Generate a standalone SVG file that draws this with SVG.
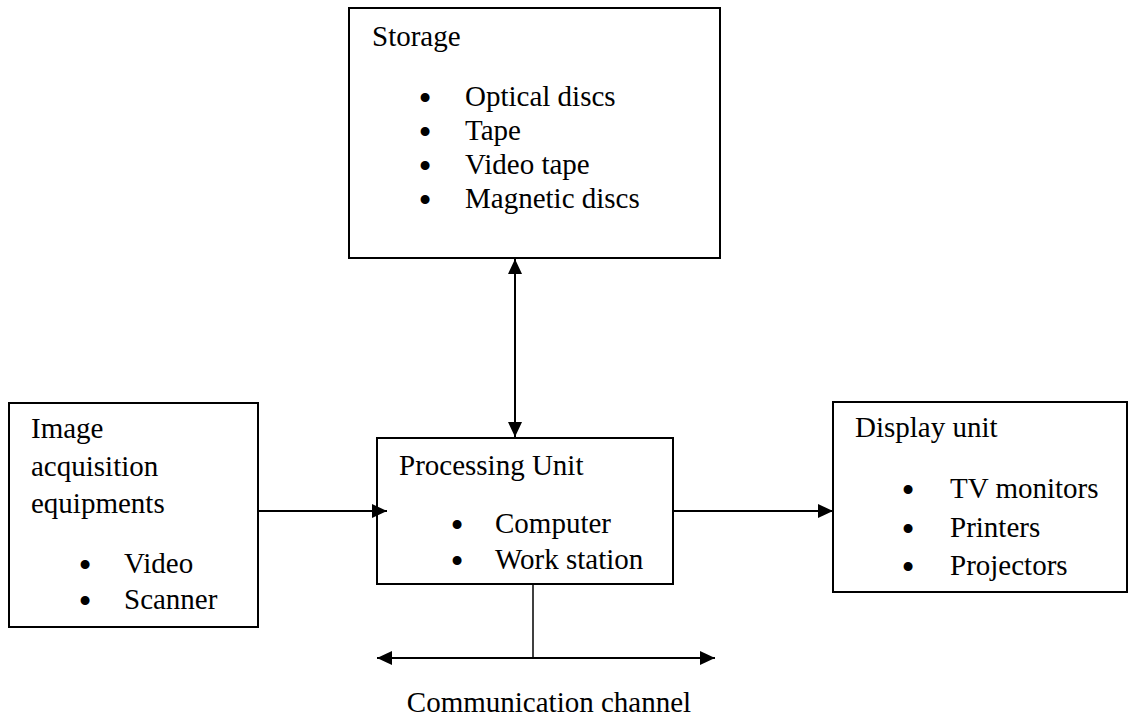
<svg xmlns="http://www.w3.org/2000/svg" width="1128" height="718" viewBox="0 0 1128 718">
<defs>
<style>
.box{fill:#fff;stroke:#000;stroke-width:2}
.t{font-family:"Liberation Serif","Times New Roman",serif;font-size:29px;fill:#000}
.bl{stroke:#000;stroke-width:2}
.ln{stroke:#000;stroke-width:2;fill:none}
.thin{stroke:#000;stroke-width:1.5;fill:none}
</style>
<marker id="ah" viewBox="0 0 15 14" refX="15" refY="7" markerWidth="15" markerHeight="14" markerUnits="userSpaceOnUse" orient="auto-start-reverse">
<path d="M0,0 L15,7 L0,14 z" fill="#000"/>
</marker>
</defs>
<rect width="1128" height="718" fill="#fff"/>
<g id="storage" class="t">
<rect class="box" x="349" y="8" width="371" height="250"/>
<text x="372" y="46">Storage</text>
<text y="106"><tspan class="bl" x="420" dy="2">•</tspan><tspan x="465" dy="-2">Optical discs</tspan></text>
<text y="140"><tspan class="bl" x="420" dy="2">•</tspan><tspan x="465" dy="-2">Tape</tspan></text>
<text y="174"><tspan class="bl" x="420" dy="2">•</tspan><tspan x="465" dy="-2">Video tape</tspan></text>
<text y="208"><tspan class="bl" x="420" dy="2">•</tspan><tspan x="465" dy="-2">Magnetic discs</tspan></text>
</g>
<g id="acquisition" class="t">
<rect class="box" x="9" y="403" width="249" height="224"/>
<text x="31" y="438">Image</text>
<text x="31" y="476">acquisition</text>
<text x="31" y="513">equipments</text>
<text y="573"><tspan class="bl" x="80" dy="2">•</tspan><tspan x="124" dy="-2">Video</tspan></text>
<text y="609"><tspan class="bl" x="80" dy="2">•</tspan><tspan x="124" dy="-2">Scanner</tspan></text>
</g>
<g id="processing" class="t">
<rect class="box" x="377" y="438" width="296" height="146"/>
<text x="399" y="475">Processing Unit</text>
<text y="533"><tspan class="bl" x="452" dy="2">•</tspan><tspan x="495" dy="-2">Computer</tspan></text>
<text y="569"><tspan class="bl" x="452" dy="2">•</tspan><tspan x="495" dy="-2">Work station</tspan></text>
</g>
<g id="display" class="t">
<rect class="box" x="833" y="402" width="294" height="190"/>
<text x="855" y="437">Display unit</text>
<text y="498"><tspan class="bl" x="903" dy="2">•</tspan><tspan x="950" dy="-2">TV monitors</tspan></text>
<text y="537"><tspan class="bl" x="903" dy="2">•</tspan><tspan x="950" dy="-2">Printers</tspan></text>
<text y="575"><tspan class="bl" x="903" dy="2">•</tspan><tspan x="950" dy="-2">Projectors</tspan></text>
</g>
<g id="connectors">
<line class="ln" x1="515" y1="259" x2="515" y2="437" marker-start="url(#ah)" marker-end="url(#ah)"/>
<line class="ln" x1="258" y1="511" x2="387" y2="511" marker-end="url(#ah)"/>
<line class="ln" x1="673" y1="511" x2="833" y2="511" marker-end="url(#ah)"/>
<line class="thin" x1="533" y1="584" x2="533" y2="658"/>
<line class="ln" x1="377" y1="658" x2="715" y2="658" marker-start="url(#ah)" marker-end="url(#ah)"/>
</g>
<text class="t" x="549" y="712" text-anchor="middle">Communication channel</text>
</svg>
